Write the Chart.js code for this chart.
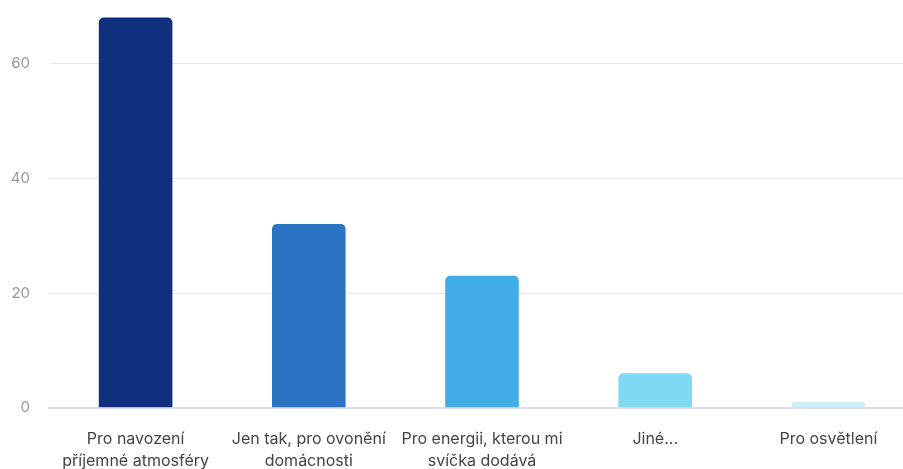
<!DOCTYPE html>
<html>
<head>
<meta charset="utf-8">
<script src="https://cdn.jsdelivr.net/npm/chart.js@4.4.1/dist/chart.umd.min.js"></script>
<style>
  html, body { margin: 0; padding: 0; background: #fff; overflow: hidden; }
  #wrap { width: 915px; height: 507px; margin-top: -22px; }
</style>
</head>
<body>
<div id="wrap"><canvas id="reasonsChart"></canvas></div>
<script>
const categories = [
  ["Pro navození", "příjemné atmosféry"],
  ["Jen tak, pro ovonění", "domácnosti"],
  ["Pro energii, kterou mi", "svíčka dodává"],
  "Jiné...",
  "Pro osvětlení"
];
const answers = [68, 32, 23, 6, 1];
const barColors = ["#10307f", "#2b73c3", "#41ace6", "#80d9f3", "#cdf0f8"];
const yTicks = [0, 20, 40, 60];

const ctx = document.getElementById("reasonsChart").getContext("2d");

new Chart(ctx, {
  type: "bar",
  data: {
    labels: categories,
    datasets: [
      {
        data: answers,
        backgroundColor: barColors,
        borderRadius: { topLeft: 5, topRight: 5 },
        borderSkipped: "bottom",
        categoryPercentage: 1,
        barPercentage: 0.425,
      },
    ],
  },
  options: {
    responsive: true,
    maintainAspectRatio: false,
    animation: false,
    layout: { padding: 0 },
    plugins: { legend: { display: false }, tooltip: { enabled: false } },
    scales: {
      x: {
        grid: { display: false },
        border: { color: "#dcdcf0", width: 2 },
        ticks: {
          color: "#444",
          font: { family: "Inter", size: 16, lineHeight: 1.35 },
          padding: 13,
          maxRotation: 0,
          autoSkip: false,
        },
      },
      y: {
        min: 0,
        max: 70,
        afterBuildTicks: (axis) => {
          axis.ticks = yTicks.map((v) => ({ value: v }));
        },
        afterFit: (scale) => {
          scale.width = 49;
        },
        border: { display: false },
        grid: { color: "#e8e8ee", drawTicks: false },
        ticks: {
          color: "#999",
          font: { family: "Inter", size: 15 },
          padding: 19,
        },
      },
    },
  },
});
</script>
</body>
</html>
